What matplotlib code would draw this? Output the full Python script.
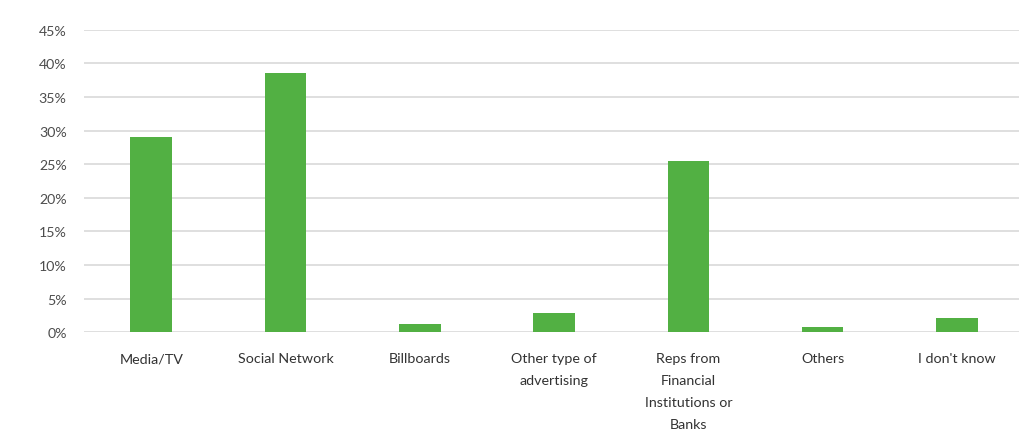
import matplotlib.pyplot as plt
import numpy as np

# survey shares (%) by information source
categories = ["Media/TV", "Social Network", "Billboards", "Other type of\nadvertising",
              "Reps from\nFinancial\nInstitutions or\nBanks", "Others", "I don't know"]
shares = [29.0, 38.6, 1.3, 2.9, 25.5, 0.75, 2.2]

plt.rcParams['font.family'] = ['Lato', 'DejaVu Sans']

fig = plt.figure(figsize=(10.2, 4.35), dpi=100)
ax = fig.add_axes([0.0824, 0.2338, 0.9216, 0.6956])

x = np.arange(len(categories))
ax.bar(x, shares, width=0.31, color="#52b043", zorder=3)

ax.set_xlim(-0.5, len(categories) - 0.5)
ax.set_ylim(0, 45)
ax.set_yticks(np.arange(0, 46, 5))
ax.set_yticklabels([f"{v}%" for v in range(0, 46, 5)])
ax.set_xticks(x)
ax.set_xticklabels(categories, linespacing=1.97, va="top")

ax.grid(axis="y", color="#d9d9d9", linewidth=1.2, zorder=0)
for s in ax.spines.values():
    s.set_visible(False)
ax.tick_params(axis="y", length=0, pad=12.5, labelsize=10.2, labelcolor="#4d4d4d")
ax.tick_params(axis="x", length=0, pad=14.5, labelsize=10.3, labelcolor="#333333")

fig.savefig("out.png", dpi=100)
